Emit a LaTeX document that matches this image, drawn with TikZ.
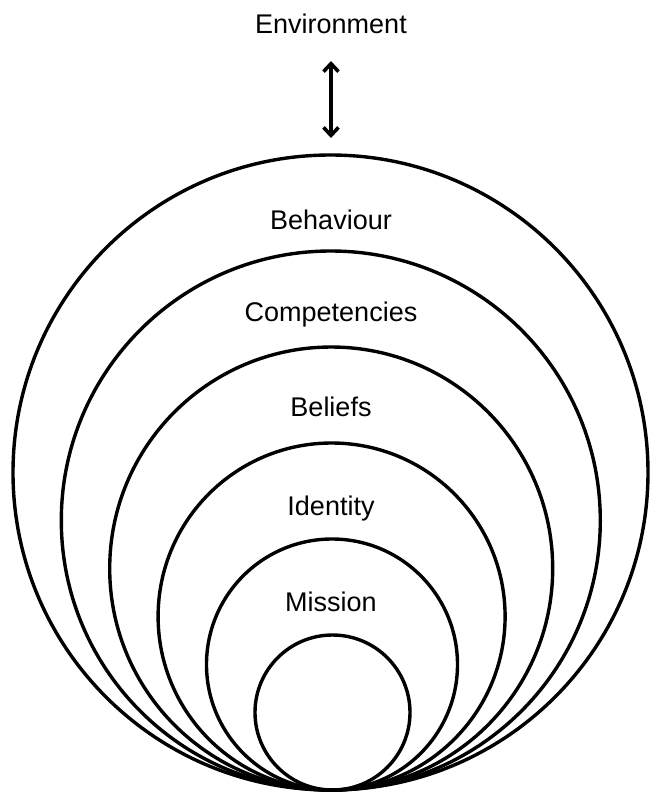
\documentclass[tikz,border=0pt]{standalone}
\usepackage{fontspec}
\setmainfont{Liberation Sans}
\usetikzlibrary{arrows.meta}
\begin{document}
\begin{tikzpicture}[x=1pt,y=-1pt,
  ring/.style={circle,draw=black,line width=3.4pt,inner sep=0pt,minimum size=#1},
  lbl/.style={anchor=base,inner sep=0pt,font=\fontsize{27}{32}\selectfont},
  barb/.tip={Straight Barb[length=8pt,width=15pt,line width=3.6pt]},
  dbl/.style={line width=3.8pt,barb-barb}]
\useasboundingbox (0,0) rectangle (649,793);
\node[ring=635pt] (c1) at (330.5,472.5) {};
\node[ring=539pt] (c2) at (330.8,520.5) {};
\node[ring=443pt] (c3) at (331.2,568.5) {};
\node[ring=347pt] (c4) at (331.6,616.5) {};
\node[ring=251pt] (c5) at (332.0,664.5) {};
\node[ring=155pt] (c6) at (332.5,712.5) {};
\node[lbl] (env) at (331,33) {Environment};
\node[lbl] (beh) at (331,229) {Behaviour};
\node[lbl] (com) at (331,321) {Competencies};
\node[lbl] (bel) at (331,416) {Beliefs};
\node[lbl] (ide) at (331,515) {Identity};
\node[lbl] (mis) at (331,611) {Mission};
\coordinate (a1) at (331,61);
\coordinate (a2) at (331,138);
\draw[dbl] (a1) -- (a2);
\end{tikzpicture}
\end{document}
